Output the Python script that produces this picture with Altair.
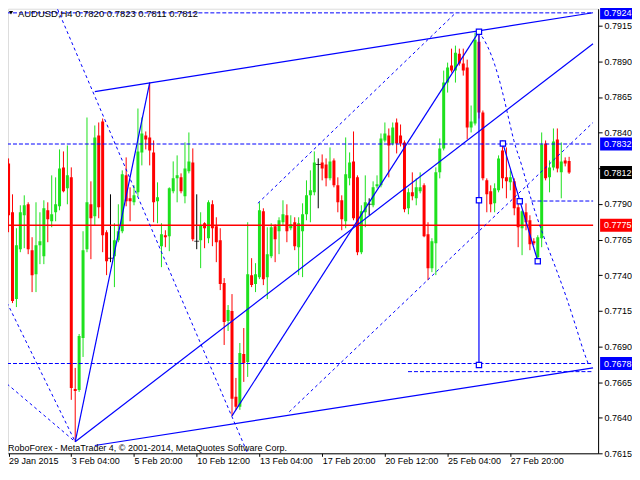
import altair as alt
import pandas as pd

# ---------------- data (AUDUSD H4) ----------------
bars = list(range(144))
open_ = [0.78184, 0.77841, 0.77232, 0.77582, 0.77820, 0.77897, 0.77575, 0.77407, 0.77610, 0.77533,
         0.77855, 0.77778, 0.77841, 0.77883, 0.78156, 0.78009, 0.78086, 0.76602, 0.76595, 0.76959,
         0.77582, 0.77897, 0.77813, 0.78380, 0.78478, 0.77701, 0.77519, 0.77533, 0.77645, 0.77708,
         0.78100, 0.77939, 0.77911, 0.77981, 0.78261, 0.78380, 0.78366, 0.78261, 0.77918, 0.77603,
         0.77680, 0.77673, 0.77988, 0.78079, 0.78086, 0.77953, 0.78128, 0.78191, 0.77638, 0.77645,
         0.77764, 0.77659, 0.77897, 0.77743, 0.77645, 0.77344, 0.77078, 0.77148, 0.76546, 0.76476,
         0.76847, 0.76791, 0.77400, 0.77337, 0.77386, 0.77848, 0.77386, 0.77533, 0.77743, 0.77708,
         0.77771, 0.77820, 0.77729, 0.77771, 0.77596, 0.77708, 0.77827, 0.77960, 0.77981, 0.78177,
         0.78191, 0.78177, 0.78079, 0.78205, 0.78030, 0.77925, 0.77778, 0.78079, 0.78198, 0.78086,
         0.77561, 0.77841, 0.77897, 0.77890, 0.78023, 0.78030, 0.78345, 0.78380, 0.78324, 0.78471,
         0.78380, 0.78331, 0.77869, 0.77981, 0.77939, 0.77988, 0.78030, 0.77687, 0.77449, 0.77624,
         0.78121, 0.78289, 0.78751, 0.78870, 0.78835, 0.78954, 0.78884, 0.78856, 0.78436, 0.78464,
         0.79038, 0.78541, 0.78065, 0.77988, 0.77904, 0.77995, 0.78275, 0.78086, 0.78051, 0.78058,
         0.77876, 0.77729, 0.77841, 0.77785, 0.77638, 0.77526, 0.77659, 0.78324, 0.78086, 0.78156,
         0.78352, 0.78121, 0.78205, 0.78200]
high = [0.78219, 0.77967, 0.77729, 0.77890, 0.77960, 0.77911, 0.77666, 0.77911, 0.77841, 0.77925,
        0.77911, 0.78100, 0.78086, 0.78282, 0.78268, 0.78310, 0.78156, 0.76749, 0.76987, 0.77708,
        0.78506, 0.78058, 0.78450, 0.78471, 0.78499, 0.77715, 0.77967, 0.77764, 0.77897, 0.78135,
        0.78226, 0.78016, 0.78030, 0.78569, 0.78506, 0.78408, 0.78751, 0.78345, 0.78051, 0.77764,
        0.77715, 0.78016, 0.78198, 0.78240, 0.78114, 0.78331, 0.78401, 0.78289, 0.77967, 0.77841,
        0.77771, 0.77925, 0.77925, 0.77806, 0.77729, 0.77379, 0.77190, 0.77267, 0.76679, 0.76924,
        0.77029, 0.77771, 0.77519, 0.77484, 0.77911, 0.77869, 0.77736, 0.77764, 0.77757, 0.77806,
        0.77925, 0.77897, 0.77820, 0.77806, 0.77806, 0.77904, 0.78065, 0.78135, 0.78268, 0.78219,
        0.78247, 0.78219, 0.78296, 0.78219, 0.78086, 0.77960, 0.78366, 0.78261, 0.78408, 0.78100,
        0.77890, 0.78100, 0.77939, 0.78058, 0.78100, 0.78394, 0.78471, 0.78429, 0.78471, 0.78499,
        0.78457, 0.78345, 0.78009, 0.78121, 0.78079, 0.78121, 0.78044, 0.77771, 0.77659, 0.78156,
        0.78359, 0.78835, 0.78891, 0.78989, 0.79010, 0.78989, 0.78989, 0.78912, 0.78590, 0.79101,
        0.79108, 0.78555, 0.78079, 0.78030, 0.78044, 0.78240, 0.78345, 0.78296, 0.78135, 0.78079,
        0.77925, 0.77855, 0.77904, 0.77820, 0.77659, 0.77680, 0.78401, 0.78345, 0.78205, 0.78429,
        0.78429, 0.78331, 0.78226, 0.78230]
low = [0.77701, 0.77204, 0.77176, 0.77561, 0.77589, 0.77547, 0.77281, 0.77281, 0.77477, 0.77477,
       0.77631, 0.77736, 0.77778, 0.77855, 0.77981, 0.77897, 0.76525, 0.76231, 0.76581, 0.76826,
       0.77561, 0.77512, 0.77750, 0.77799, 0.77561, 0.77400, 0.77491, 0.77316, 0.77631, 0.77694,
       0.77883, 0.77778, 0.77890, 0.77953, 0.78170, 0.78282, 0.78170, 0.77771, 0.77764, 0.77456,
       0.77596, 0.77568, 0.77974, 0.77911, 0.77974, 0.77904, 0.78114, 0.77638, 0.77582, 0.77449,
       0.77589, 0.77624, 0.77603, 0.77491, 0.77295, 0.76910, 0.77008, 0.76413, 0.76455, 0.76455,
       0.76651, 0.76686, 0.77316, 0.77281, 0.77372, 0.77330, 0.77232, 0.77519, 0.77491, 0.77547,
       0.77750, 0.77631, 0.77715, 0.77575, 0.77400, 0.77386, 0.77785, 0.77771, 0.77960, 0.77869,
       0.78065, 0.78023, 0.78065, 0.78016, 0.77841, 0.77715, 0.77729, 0.78030, 0.77785, 0.77540,
       0.77547, 0.77736, 0.77820, 0.77876, 0.78009, 0.78016, 0.78331, 0.78086, 0.78310, 0.78254,
       0.78303, 0.77841, 0.77827, 0.77925, 0.77890, 0.77974, 0.77666, 0.77365, 0.77421, 0.77400,
       0.78079, 0.78275, 0.78681, 0.78821, 0.78751, 0.78870, 0.78800, 0.78352, 0.78401, 0.78450,
       0.78499, 0.78065, 0.77841, 0.77841, 0.77841, 0.77981, 0.78009, 0.77939, 0.77995, 0.77820,
       0.77596, 0.77540, 0.77715, 0.77575, 0.77610, 0.77505, 0.77596, 0.78065, 0.77981, 0.78135,
       0.78121, 0.77939, 0.78163, 0.78110]
close = [0.77820, 0.77218, 0.77610, 0.77841, 0.77890, 0.77582, 0.77400, 0.77610, 0.77638, 0.77869,
         0.77792, 0.77827, 0.77897, 0.78149, 0.77988, 0.78100, 0.76609, 0.76588, 0.76973, 0.77575,
         0.77911, 0.77799, 0.78366, 0.77876, 0.77680, 0.77498, 0.77519, 0.77645, 0.77708, 0.78107,
         0.77918, 0.77918, 0.77960, 0.78268, 0.78394, 0.78352, 0.78275, 0.77911, 0.77946, 0.77687,
         0.77666, 0.78009, 0.78079, 0.78100, 0.77988, 0.78149, 0.78198, 0.77652, 0.77638, 0.77750,
         0.77729, 0.77911, 0.77729, 0.77631, 0.77337, 0.77071, 0.77155, 0.76532, 0.76476, 0.76854,
         0.76784, 0.77407, 0.77330, 0.77407, 0.77855, 0.77372, 0.77547, 0.77736, 0.77652, 0.77785,
         0.77827, 0.77708, 0.77757, 0.77603, 0.77764, 0.77827, 0.77960, 0.77995, 0.78191, 0.78177,
         0.78149, 0.78079, 0.78198, 0.78030, 0.77911, 0.77792, 0.78107, 0.78191, 0.77799, 0.77561,
         0.77848, 0.77911, 0.77897, 0.78016, 0.78037, 0.78359, 0.78394, 0.78310, 0.78436, 0.78324,
         0.78324, 0.77862, 0.77981, 0.77953, 0.78016, 0.78016, 0.77673, 0.77449, 0.77638, 0.78121,
         0.78289, 0.78751, 0.78856, 0.78835, 0.78961, 0.78884, 0.78835, 0.78436, 0.78478, 0.79052,
         0.78541, 0.78079, 0.77967, 0.77897, 0.78009, 0.78219, 0.78079, 0.78058, 0.78086, 0.77869,
         0.77736, 0.77848, 0.77771, 0.77617, 0.77624, 0.77666, 0.78317, 0.78079, 0.78156, 0.78338,
         0.78149, 0.78198, 0.78184, 0.78120]

tick_pos = [0, 16, 32, 48, 64, 80, 96, 112, 128]
tick_lab = ["29 Jan 2015", "3 Feb 04:00", "5 Feb 20:00", "10 Feb 12:00", "13 Feb 04:00",
            "17 Feb 20:00", "20 Feb 12:00", "25 Feb 04:00", "27 Feb 20:00"]
price_ticks = [0.7615, 0.7640, 0.7665, 0.7690, 0.7715, 0.7740, 0.7765, 0.7790,
               0.7815, 0.7840, 0.7865, 0.7890, 0.7915]

# drawn objects (bar index, price)
solid_x1 = [22.0, 22.0, 17.0, 17.0, 57.0, 120.0, 126.1]
solid_y1 = [0.78688, 0.76205, 0.76231, 0.76231, 0.76413, 0.79108, 0.78324]
solid_x2 = [149.1, 149.1, 36.0, 149.1, 120.0, 120.0, 135.0]
solid_y2 = [0.79241, 0.76749, 0.78751, 0.79024, 0.79108, 0.76770, 0.77498]

dash_x1 = [11.9, -0.4, -0.4, 63.6, 71.6]
dash_y1 = [0.79304, 0.77207, 0.76637, 0.77904, 0.76441]
dash_x2 = [61.9, 17.0, 17.0, 114.1, 149.1]
dash_y2 = [0.76091, 0.76231, 0.76231, 0.79241, 0.78471]

curve_x = [119.9, 122.1, 124.1, 125.9, 127.4, 128.9, 130.9, 133.4, 136.6, 139.6, 142.1, 144.6, 146.6, 147.9]
curve_y = [0.79108, 0.79010, 0.78870, 0.78695, 0.78520, 0.78345, 0.78170, 0.77925, 0.77666, 0.77449,
           0.77260, 0.77050, 0.76875, 0.76777]

hdash_price = [0.7924, 0.7832, 0.7678, 0.76723, 0.77920]
hdash_start = [-0.4, -0.4, -0.4, 101.9, 133.4]
red_level = [0.7775]

sq_x = [120.0, 120.0, 120.0, 126.1, 130.4, 135.0]
sq_y = [0.79108, 0.77925, 0.76770, 0.78324, 0.77918, 0.77498]

box_price = [0.7924, 0.7832, 0.7812, 0.7775, 0.7678]
box_color = ["#0000ff", "#0000ff", "#000000", "#ff0000", "#0000ff"]

# ---------------- chart ----------------
GREEN = "#1ee11e"
RED = "#ff0000"
BLUE = "#0000ff"
FONT = "Liberation Sans"
W, H = 592, 446
XMIN, XMAX = 1.125, 149.125

dirs = ["up" if c > o else ("down" if c < o else "doji") for o, c in zip(open_, close)]
candles = pd.DataFrame({"i": bars, "o": open_, "h": high, "l": low, "c": close, "d": dirs})

xs = alt.Scale(domain=[XMIN, XMAX], nice=False, zero=False)
ys = alt.Scale(domain=[0.7615, 0.79269], nice=False, zero=False)

label_expr = "[" + ",".join("'%s'" % t for t in tick_lab) + "][round(datum.value/16)]"
x_axis = alt.Axis(values=tick_pos, labelExpr=label_expr, title=None, grid=False, tickSize=3,
                  labelAlign="left", labelPadding=0, labelFontSize=9, labelFont=FONT,
                  labelBaseline="top", labelColor="black", domainColor="black", tickColor="black",
                  labelOverlap=False, labelFlush=False, labelBound=False)
y_axis = alt.Axis(orient="right", values=price_ticks, format=".4f", title=None, grid=False,
                  tickSize=4, labelPadding=2, labelFontSize=9, labelFont=FONT,
                  labelColor="black", domainColor="black", tickColor="black",
                  labelOverlap=False, labelFlush=False, labelBound=False)


def X(f):
    return alt.X(f, type="quantitative", scale=xs, axis=x_axis)


def Y(f):
    return alt.Y(f, type="quantitative", scale=ys, axis=y_axis)


col = alt.Color("d:N", scale=alt.Scale(domain=["up", "down", "doji"], range=[GREEN, RED, "#000000"]),
                legend=None)

base = alt.Chart(candles)
wicks = base.mark_rule(strokeWidth=1, clip=True).encode(x=X("i"), y=Y("l"), y2="h", color=col)
bodies = base.transform_filter("datum.d != 'doji'").mark_bar(size=3, clip=True).encode(
    x=X("i"), y=Y("o"), y2="c", color=col)
dojis = base.transform_filter("datum.d == 'doji'").mark_tick(
    orient="horizontal", size=5, thickness=1, color="black", clip=True).encode(x=X("i"), y=Y("o"))

hd = pd.DataFrame({"p": hdash_price, "s": hdash_start, "e": [XMAX] * len(hdash_price)})
hdash = alt.Chart(hd).mark_rule(color=BLUE, strokeWidth=1, strokeDash=[4, 2], clip=True).encode(
    x=X("s"), x2="e", y=Y("p"))
rd = pd.DataFrame({"p": red_level, "s": [-0.4], "e": [XMAX]})
redline = alt.Chart(rd).mark_rule(color=RED, strokeWidth=1.3, clip=True).encode(x=X("s"), x2="e", y=Y("p"))

sd = pd.DataFrame({"x1": solid_x1, "y1": solid_y1, "x2": solid_x2, "y2": solid_y2})
solid = alt.Chart(sd).mark_rule(color=BLUE, strokeWidth=1.2, clip=True).encode(
    x=X("x1"), x2="x2", y=Y("y1"), y2="y2")
dd = pd.DataFrame({"x1": dash_x1, "y1": dash_y1, "x2": dash_x2, "y2": dash_y2})
dashed = alt.Chart(dd).mark_rule(color=BLUE, strokeWidth=1, strokeDash=[3, 3], clip=True).encode(
    x=X("x1"), x2="x2", y=Y("y1"), y2="y2")
cd = pd.DataFrame({"x": curve_x, "y": curve_y, "k": list(range(len(curve_x)))})
curve = alt.Chart(cd).mark_line(color=BLUE, strokeWidth=1, strokeDash=[3, 3], clip=True,
                                interpolate="monotone").encode(x=X("x"), y=Y("y"), order="k:Q")
qd = pd.DataFrame({"x": sq_x, "y": sq_y})
squares = alt.Chart(qd).mark_point(shape="square", size=28, filled=True, fill="white",
                                   stroke=BLUE, strokeWidth=1.2, opacity=1).encode(x=X("x"), y=Y("y"))

bd = pd.DataFrame({"p": box_price, "c": box_color, "t": ["%.4f" % v for v in box_price]})
boxes = alt.Chart(bd).mark_tick(orient="horizontal", size=34, thickness=13, opacity=1).encode(
    x=alt.value(W + 19), y=Y("p"), color=alt.Color("c:N", scale=None))
box_text = alt.Chart(bd).mark_text(align="left", baseline="middle", fontSize=9, font=FONT,
                                   color="white").encode(x=alt.value(W + 6), y=Y("p"), text="t:N")

td = pd.DataFrame({"t": ["AUDUSD,H4  0.7820 0.7823 0.7811 0.7812"]})
title = alt.Chart(td).mark_text(align="left", baseline="middle", fontSize=9.5, font=FONT,
                                color="black").encode(x=alt.value(10), y=alt.value(5), text="t:N")
tri = alt.Chart(td).mark_point(shape="triangle-down", size=18, filled=True, color="black",
                               opacity=1).encode(x=alt.value(3), y=alt.value(4))
wd = pd.DataFrame({"t": ["RoboForex - MetaTrader 4, \u00a9 2001-2014, MetaQuotes Software Corp."]})
wmark = alt.Chart(wd).mark_text(align="left", baseline="middle", fontSize=9, font=FONT,
                                color="black").encode(x=alt.value(0), y=alt.value(H - 5), text="t:N")

chart = alt.layer(
    wicks, bodies, dojis, hdash, redline, solid, dashed, curve, squares,
    boxes, box_text, title, tri, wmark
).properties(
    width=W, height=H,
    autosize=alt.AutoSizeParams(type="none"),
    padding={"left": 0, "top": 0, "right": 34, "bottom": 14},
).configure_view(stroke="black", strokeWidth=1).configure(background="white")

chart.save("out.html", embed_options={"renderer": "svg", "actions": False})
